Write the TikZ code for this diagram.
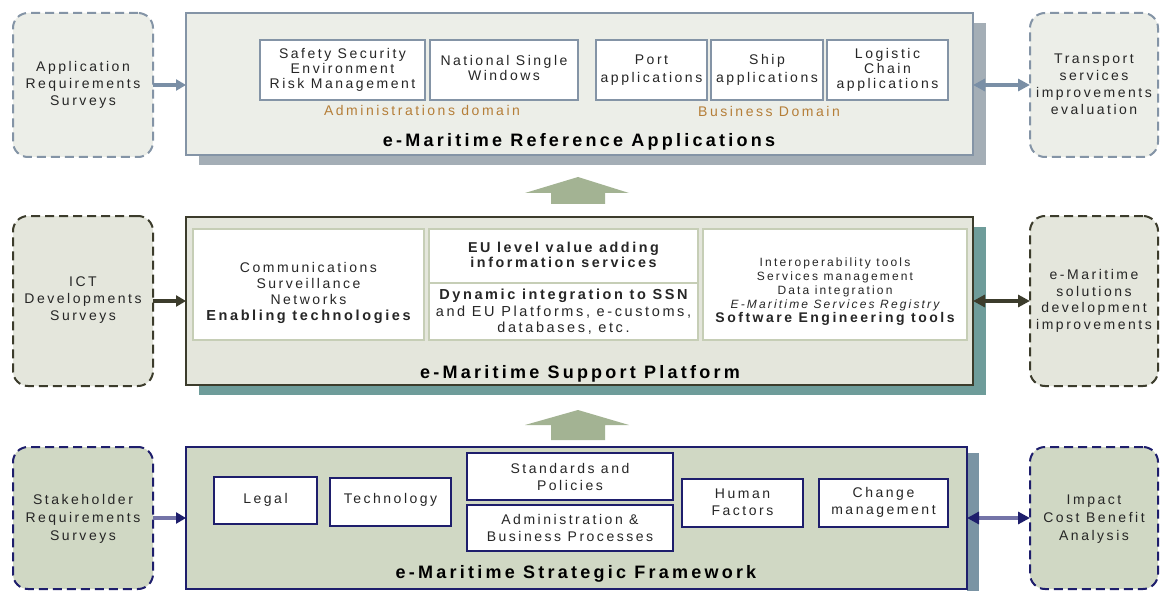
\documentclass[tikz,border=0pt]{standalone}
\usepackage{fontspec}
\setmainfont{Liberation Sans}[LetterSpace=18]
\usetikzlibrary{arrows.meta}

% palette
\definecolor{txt}{HTML}{262626}
\definecolor{fillA}{HTML}{ECEEE8}
\definecolor{lineA}{HTML}{8494A6}
\definecolor{arrA}{HTML}{7A8FA6}
\definecolor{shadeA}{HTML}{A4AEB6}
\definecolor{domain}{HTML}{B57E38}
\definecolor{fillB}{HTML}{E4E6DC}
\definecolor{lineB}{HTML}{3C3C2C}
\definecolor{shadeB}{HTML}{6E9C9A}
\definecolor{innerB}{HTML}{C6CEB6}
\definecolor{fillC}{HTML}{D0D8C4}
\definecolor{lineC}{HTML}{1E1E6C}
\definecolor{lineCl}{HTML}{7474A8}
\definecolor{shadeC}{HTML}{7A94A4}
\definecolor{up}{HTML}{A3B393}

% box given by its corners, text shifted down by dy:
% \bx[style]{name}{x1}{y1}{x2}{y2}{dy}{text}
\newcommand\bx[8][]{%
  \node[#1, minimum width={(#5-#3)*1pt}, minimum height={(#6-#4)*1pt}] (#2)
    at ({(#3+#5)/2},{(#4+#6)/2}) {};
  \node[#1, draw=none, fill=none, minimum width=0pt, minimum height=0pt] (#2-text)
    at ({(#3+#5)/2},{(#4+#6)/2+#7}) {#8};}

\tikzset{
  base/.style={inner sep=0pt, outer sep=0pt, align=center, text=txt,
    font=\fontsize{14}{15}\selectfont},
  survey/.style={base, rounded corners=15pt, line width=2pt, dash pattern=on 9pt off 5pt,
    font=\fontsize{14}{17}\selectfont},
  mainbox/.style={base, line width=2pt},
  inner/.style={base, fill=white},
  title/.style={inner sep=0pt, text=black, font=\fontsize{18}{20}\selectfont\bfseries},
  domlabel/.style={inner sep=0pt, text=domain, font=\fontsize{14}{16}\selectfont},
  small/.style={font=\fontsize{12}{14}\selectfont},
  link/.style={line width=3.5pt},
  tipS/.style={-{Triangle[length=10pt,width=11pt]}},
  tipD/.style={{Triangle[length=12pt,width=12pt]}-{Triangle[length=12pt,width=12pt]}},
}

\begin{document}
\begin{tikzpicture}[x=1pt,y=-1pt]
\useasboundingbox[fill=white] (0,0) rectangle (1160,591);
\clip (0,0) rectangle (1160,591);

% ---------------- reference applications ----------------
\bx[survey, draw=lineA, fill=fillA]{appreq}{13}{13}{153}{157}{0}{Application\\Requirements\\Surveys}
\bx[survey, draw=lineA, fill=fillA]{transport}{1030}{13}{1158}{157}{-1}{Transport\\services\\improvements\\evaluation}
\fill[shadeA] (199,23) rectangle (986,165);
\bx[mainbox, draw=lineA, fill=fillA]{refapp}{186}{13}{973}{155}{0}{}
\bx[inner, draw=lineA, line width=1.5pt]{safety}{260}{40}{425}{100}{-0.5}{Safety Security\\Environment\\Risk Management}
\bx[inner, draw=lineA, line width=1.5pt]{nsw}{430}{40}{578}{100}{-2}{National Single\\Windows}
\bx[inner, draw=lineA, line width=1.5pt]{port}{596}{40}{707}{100}{0}{Port\\[3pt]applications}
\bx[inner, draw=lineA, line width=1.5pt]{ship}{711}{40}{823}{100}{0}{Ship\\[3pt]applications}
\bx[inner, draw=lineA, line width=1.5pt]{logistic}{827}{40}{948}{100}{-0.5}{Logistic\\Chain\\applications}
\node[domlabel] (admdom) at (422,110) {Administrations domain};
\node[domlabel] (busdom) at (769,111) {Business Domain};
\node[title] (reftitle) at (579,142) {e-Maritime Reference Applications};

\draw[arrA, link, tipS] (appreq.east) -- (appreq.east -| refapp.west);
\draw[arrA, link, tipD] (transport.west -| refapp.east) -- (transport.west);

% up arrow between layers
\fill[up] (578,177) -- (629,193) -- (605,193) -- (605,204) -- (551,204) -- (551,193) -- (525,193) -- cycle;

% ---------------- support platform ----------------
\bx[survey, draw=lineB, fill=fillB]{ict}{13}{216}{153}{386}{-1}{ICT\\Developments\\Surveys}
\bx[survey, draw=lineB, fill=fillB, font=\fontsize{14}{16.5}\selectfont]{solutions}{1030}{216}{1158}{386}{0}{e-Maritime\\solutions\\development\\improvements}
\fill[shadeB] (199,227) rectangle (986,395);
\bx[mainbox, draw=lineB, fill=fillB]{support}{186}{217}{973}{385}{0}{}
\bx[inner, draw=innerB, line width=1.5pt, font=\fontsize{14}{16}\selectfont]{enabling}{193}{229}{424}{340}{8.5}{Communications\\Surveillance\\Networks\\\fontsize{14.5}{17}\selectfont\bfseries Enabling technologies}
\bx[inner, draw=innerB, line width=1.5pt, font=\fontsize{14.3}{15.5}\selectfont\bfseries]{euvalue}{429}{229}{698}{283}{-1}{EU level value adding\\information services}
\bx[inner, draw=innerB, line width=1.5pt, font=\fontsize{14.5}{16.5}\selectfont]{dynamic}{429}{283}{698}{340}{0.5}{\bfseries Dynamic integration to SSN\\and EU Platforms, e-customs,\\databases, etc.}
\bx[inner, draw=innerB, line width=1.5pt, small]{software}{703}{229}{967}{340}{7}{Interoperability tools\\Services management\\Data integration\\\itshape E-Maritime Services Registry\\\fontsize{14}{16}\selectfont\bfseries Software Engineering tools}
\node[title] (suptitle) at (580,374) {e-Maritime Support Platform};

\draw[lineB, link, tipS] (ict.east) -- (ict.east -| support.west);
\draw[lineB, link, tipD] (solutions.west -| support.east) -- (solutions.west);

\fill[up] (578,410) -- (629,425) -- (605,425) -- (605,440) -- (551,440) -- (551,425) -- (525,425) -- cycle;

% ---------------- strategic framework ----------------
\bx[survey, draw=lineC, fill=fillC, font=\fontsize{14}{18}\selectfont]{stake}{13}{447}{153}{589}{1}{Stakeholder\\Requirements\\Surveys}
\bx[survey, draw=lineC, fill=fillC, font=\fontsize{14}{18}\selectfont]{impact}{1030}{447}{1158}{589}{1}{Impact\\Cost Benefit\\Analysis}
\fill[shadeC] (979,453) rectangle (967,600);
\bx[mainbox, draw=lineC, fill=fillC]{strategic}{186}{447}{967}{589}{0}{}
\bx[inner, draw=lineC, line width=1.5pt]{legal}{214}{477}{317}{524}{-1}{Legal}
\bx[inner, draw=lineC, line width=1.5pt]{technology}{330}{478}{451}{526}{-2}{Technology}
\bx[inner, draw=lineC, line width=1.5pt, font=\fontsize{14}{17}\selectfont]{standards}{467}{453}{673}{500}{0}{Standards and\\Policies}
\bx[inner, draw=lineC, line width=1.5pt, font=\fontsize{14}{17}\selectfont]{administration}{467}{505}{673}{551}{0}{Administration \&\\Business Processes}
\bx[inner, draw=lineC, line width=1.5pt, font=\fontsize{14}{17}\selectfont]{human}{682}{479}{803}{527}{-1}{Human\\Factors}
\bx[inner, draw=lineC, line width=1.5pt, font=\fontsize{14}{17}\selectfont]{change}{819}{479}{948}{527}{-1}{Change\\management}
\node[title] (strtitle) at (576,574) {e-Maritime Strategic Framework};

\draw[lineCl, link, -{Triangle[length=10pt,width=11pt,color=lineC]}]
  (stake.east) -- (stake.east -| strategic.west);
\draw[lineCl, link, {Triangle[length=12pt,width=12pt,color=lineC]}-{Triangle[length=12pt,width=12pt,color=lineC]}]
  (impact.west -| strategic.east) -- (impact.west);
\end{tikzpicture}
\end{document}
